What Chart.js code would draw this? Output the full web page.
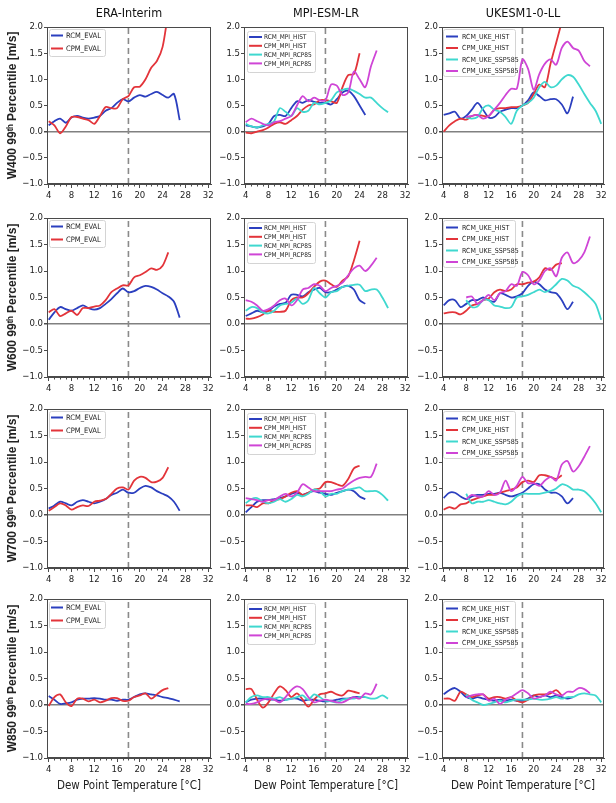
<!DOCTYPE html>
<html><head><meta charset="utf-8">
<script src="https://cdn.jsdelivr.net/npm/chart.js@4.4.1/dist/chart.umd.min.js"></script>
<style>
html,body{margin:0;padding:0;background:#fff;}
body{width:616px;height:803px;position:relative;overflow:hidden;}
canvas{position:absolute;}
</style></head>
<body>
<script>
// ---------------- DATA ----------------
const dewPoint = [4,5,6,7,8,9,10,11,12,13,14,15,16,17,18,19,20,21,22,23,24,25,26,27,28,29,30,31,32];
const xTickValues = [4,8,12,16,20,24,28,32];
const yTickValues = [-1.0,-0.5,0.0,0.5,1.0,1.5,2.0];
const thresholdTemp = 18;
const columnTitles = ['ERA-Interim','MPI-ESM-LR','UKESM1-0-LL'];
const levelNames = ['W400','W600','W700','W850'];
const eraLabels = ['RCM_EVAL','CPM_EVAL'];
const mpiLabels = ['RCM_MPI_HIST','CPM_MPI_HIST','RCM_MPI_RCP85','CPM_MPI_RCP85'];
const ukeLabels = ['RCM_UKE_HIST','CPM_UKE_HIST','RCM_UKE_SSP585','CPM_UKE_SSP585'];
const n = null;

// W400
const w400_era_rcm = [0.12,0.2,0.25,0.17,0.27,0.3,0.27,0.25,0.27,0.3,0.4,0.45,0.55,0.62,0.58,0.65,0.7,0.67,0.72,0.76,0.7,0.65,0.72,0.22];
const w400_era_cpm = [0.2,0.12,-0.03,0.1,0.28,0.28,0.25,0.22,0.15,0.3,0.47,0.45,0.45,0.62,0.68,0.85,0.86,1.0,1.22,1.35,1.62,2.3];
const w400_mpi_rcm_hist = [0.12,0.1,0.08,0.1,0.15,0.3,0.32,0.3,0.45,0.58,0.55,0.6,0.57,0.55,0.55,0.52,0.62,0.75,0.78,0.68,0.5,0.32];
const w400_mpi_cpm_hist = [-0.02,-0.03,0.0,0.03,0.08,0.15,0.18,0.15,0.22,0.3,0.42,0.5,0.52,0.6,0.6,0.58,0.55,0.85,1.08,1.1,1.5];
const w400_mpi_rcm_rcp85 = [0.15,0.1,0.08,0.12,0.15,0.2,0.45,0.38,0.3,0.45,0.38,0.4,0.55,0.52,0.55,0.6,0.75,0.8,0.82,0.78,0.72,0.65,0.65,0.55,0.45,0.37];
const w400_mpi_cpm_rcp85 = [0.18,0.25,0.2,0.15,0.12,0.18,0.2,0.25,0.3,0.5,0.68,0.58,0.65,0.6,0.6,0.9,0.88,0.7,0.75,1.15,1.0,0.85,1.25,1.55];
const w400_uke_rcm_hist = [0.32,0.35,0.38,0.25,0.3,0.42,0.55,0.42,0.27,0.28,0.38,0.42,0.45,0.45,0.5,0.6,0.75,0.68,0.6,0.62,0.62,0.52,0.35,0.67];
const w400_uke_cpm_hist = [0.0,0.12,0.2,0.25,0.23,0.3,0.32,0.3,0.3,0.42,0.45,0.45,0.47,0.47,0.5,0.55,0.72,0.9,0.85,1.3,1.7,2.1];
const w400_uke_rcm_ssp585 = [n,n,n,n,0.27,0.25,0.28,0.45,0.5,0.42,0.38,0.28,0.15,0.4,0.5,0.55,0.65,0.85,0.95,0.85,0.88,1.0,1.08,1.05,0.9,0.72,0.55,0.4,0.15];
const w400_uke_cpm_ssp585 = [n,n,n,n,0.28,0.3,0.32,0.25,0.3,0.42,0.55,0.7,0.82,0.82,1.38,1.2,0.8,1.1,1.3,1.38,1.28,1.6,1.72,1.6,1.55,1.35,1.25];
// W600
const w600_era_rcm = [0.08,0.22,0.32,0.28,0.25,0.3,0.35,0.3,0.27,0.3,0.38,0.47,0.58,0.67,0.6,0.62,0.68,0.72,0.7,0.65,0.58,0.52,0.42,0.12];
const w600_era_cpm = [0.22,0.28,0.15,0.2,0.25,0.17,0.3,0.3,0.33,0.35,0.45,0.6,0.67,0.73,0.73,0.88,0.92,0.98,1.05,1.02,1.1,1.35];
const w600_mpi_rcm_hist = [0.15,0.2,0.25,0.22,0.25,0.33,0.38,0.4,0.55,0.55,0.52,0.6,0.65,0.68,0.6,0.6,0.65,0.7,0.72,0.65,0.45,0.38];
const w600_mpi_cpm_hist = [0.1,0.1,0.13,0.18,0.25,0.23,0.23,0.25,0.45,0.5,0.5,0.58,0.7,0.8,0.82,0.75,0.7,0.82,0.9,1.2,1.57];
const w600_mpi_rcm_rcp85 = [0.25,0.32,0.3,0.22,0.2,0.25,0.35,0.38,0.4,0.48,0.38,0.45,0.68,0.58,0.5,0.6,0.62,0.7,0.72,0.74,0.74,0.62,0.65,0.65,0.5,0.3];
const w600_mpi_cpm_rcp85 = [0.45,0.42,0.35,0.25,0.28,0.35,0.45,0.48,0.35,0.45,0.65,0.68,0.75,0.72,0.62,0.68,0.72,0.78,0.92,1.05,1.1,1.0,1.1,1.25];
const w600_uke_rcm_hist = [0.35,0.45,0.45,0.32,0.38,0.45,0.45,0.5,0.45,0.42,0.58,0.55,0.5,0.52,0.58,0.72,0.8,0.75,0.65,0.6,0.58,0.45,0.28,0.42];
const w600_uke_cpm_hist = [0.2,0.22,0.22,0.18,0.25,0.35,0.38,0.45,0.48,0.6,0.65,0.62,0.65,0.75,0.75,0.78,0.8,0.88,1.05,1.02,1.12,1.15];
const w600_uke_rcm_ssp585 = [n,n,n,n,0.45,0.32,0.33,0.45,0.45,0.35,0.33,0.3,0.32,0.5,0.52,0.55,0.6,0.65,0.6,0.65,0.75,0.85,0.82,0.72,0.68,0.6,0.5,0.38,0.08];
const w600_uke_cpm_ssp585 = [n,n,n,n,0.5,0.52,0.38,0.45,0.55,0.45,0.58,0.62,0.75,0.72,0.98,0.92,0.75,0.82,1.0,1.05,0.9,1.25,1.35,1.15,1.2,1.35,1.65];
// W700
const w700_era_rcm = [0.12,0.18,0.25,0.22,0.18,0.25,0.28,0.25,0.22,0.25,0.3,0.38,0.42,0.48,0.42,0.42,0.5,0.55,0.52,0.45,0.4,0.35,0.25,0.08];
const w700_era_cpm = [0.08,0.15,0.22,0.18,0.1,0.15,0.18,0.17,0.25,0.27,0.3,0.4,0.5,0.52,0.48,0.65,0.72,0.7,0.62,0.63,0.7,0.9];
const w700_mpi_rcm_hist = [0.05,0.15,0.25,0.28,0.28,0.3,0.32,0.35,0.4,0.42,0.38,0.42,0.45,0.42,0.4,0.38,0.42,0.45,0.48,0.45,0.35,0.3];
const w700_mpi_cpm_hist = [0.18,0.18,0.15,0.22,0.22,0.28,0.3,0.35,0.42,0.45,0.38,0.42,0.48,0.5,0.62,0.62,0.58,0.55,0.68,0.88,0.93];
const w700_mpi_rcm_rcp85 = [0.22,0.3,0.32,0.25,0.22,0.25,0.3,0.25,0.3,0.38,0.35,0.4,0.48,0.45,0.35,0.4,0.4,0.45,0.48,0.5,0.52,0.45,0.45,0.45,0.38,0.27];
const w700_mpi_cpm_rcp85 = [0.32,0.3,0.28,0.25,0.28,0.28,0.35,0.4,0.35,0.42,0.58,0.52,0.45,0.45,0.45,0.45,0.48,0.5,0.58,0.65,0.7,0.72,0.72,0.97];
const w700_uke_rcm_hist = [0.32,0.42,0.42,0.35,0.3,0.35,0.38,0.38,0.4,0.4,0.42,0.38,0.35,0.38,0.42,0.5,0.58,0.58,0.48,0.42,0.42,0.35,0.22,0.32];
const w700_uke_cpm_hist = [0.1,0.15,0.12,0.2,0.22,0.28,0.32,0.35,0.38,0.38,0.42,0.45,0.48,0.52,0.62,0.65,0.62,0.75,0.75,0.72,0.68,0.75];
const w700_uke_rcm_ssp585 = [n,n,n,n,0.4,0.22,0.25,0.25,0.28,0.25,0.22,0.2,0.25,0.35,0.4,0.4,0.4,0.4,0.42,0.45,0.5,0.58,0.55,0.48,0.48,0.45,0.35,0.22,0.05];
const w700_uke_cpm_ssp585 = [n,n,n,n,0.3,0.38,0.35,0.35,0.45,0.38,0.42,0.65,0.45,0.55,0.72,0.6,0.6,0.55,0.65,0.72,0.65,0.95,1.02,0.82,0.92,1.1,1.3];
// W850
const w850_era_rcm = [0.17,0.1,0.02,0.03,0.05,0.1,0.12,0.12,0.13,0.12,0.1,0.1,0.08,0.1,0.1,0.15,0.2,0.22,0.2,0.18,0.15,0.13,0.1,0.07];
const w850_era_cpm = [-0.02,0.15,0.2,0.05,-0.02,0.12,0.12,0.07,0.1,0.05,0.08,0.13,0.13,0.08,0.08,0.15,0.18,0.22,0.12,0.2,0.28,0.32];
const w850_mpi_rcm_hist = [0.05,0.1,0.12,0.12,0.1,0.1,0.08,0.1,0.12,0.12,0.08,0.1,0.1,0.08,0.07,0.08,0.1,0.12,0.12,0.15,0.15,0.15];
const w850_mpi_cpm_hist = [0.3,0.3,0.1,-0.05,0.05,0.22,0.35,0.28,0.15,0.22,0.1,-0.03,0.1,0.2,0.22,0.25,0.2,0.18,0.27,0.25,0.22];
const w850_mpi_rcm_rcp85 = [0.05,0.15,0.18,0.15,0.15,0.12,0.15,0.1,0.12,0.15,0.18,0.1,0.2,0.15,0.08,0.07,0.05,0.1,0.12,0.12,0.15,0.15,0.12,0.13,0.18,0.12];
const w850_mpi_cpm_rcp85 = [0.02,0.02,0.05,0.1,0.12,0.1,0.05,0.15,0.28,0.35,0.3,0.15,0.05,0.08,0.1,0.08,0.05,0.05,0.1,0.15,0.12,0.22,0.2,0.4];
const w850_uke_rcm_hist = [0.2,0.28,0.32,0.25,0.15,0.12,0.15,0.12,0.1,0.08,0.1,0.08,0.1,0.08,0.08,0.12,0.18,0.15,0.18,0.15,0.18,0.15,0.12,0.15];
const w850_uke_cpm_hist = [0.12,0.12,0.08,0.25,0.2,0.15,0.18,0.2,0.12,0.15,0.15,0.12,0.15,0.08,0.05,0.1,0.18,0.2,0.2,0.22,0.28,0.18];
const w850_uke_rcm_ssp585 = [n,n,n,n,0.2,0.1,0.05,0.0,0.02,0.05,0.08,0.05,0.08,0.1,0.1,0.1,0.12,0.1,0.1,0.12,0.15,0.12,0.15,0.15,0.2,0.22,0.2,0.18,0.05];
const w850_uke_cpm_ssp585 = [n,n,n,n,0.15,0.18,0.2,0.2,0.08,0.12,0.02,0.1,0.15,0.22,0.28,0.22,0.12,0.15,0.18,0.25,0.2,0.18,0.25,0.25,0.32,0.3,0.22];

// ---------------- STYLE / LAYOUT ----------------
const seriesColors = ['#2b3fbf','#e3343a','#3fd8cf','#cf45d6'];
const FONT_NARROW = "'Liberation Sans Narrow','DejaVu Sans Condensed','Arial Narrow','Liberation Sans',sans-serif";
const FONT_BOLD = "'Liberation Sans','DejaVu Sans',sans-serif";
const AXIS_COLOR = '#4a4a4a';
const LEFT = [47,244,442], RIGHT = [211,408,604];
const TOP = [27,218,409,599], BOTTOM = [184,377,568,758];
const legendGeom = [
  {dx:2, dy:2, w:56, h:27, l0:4, l1:16, tx:19, y0:8.5, step:13, font:7.5},
  {dx:3, dy:4, w:68, h:41, l0:5, l1:18, tx:20, y0:10, step:8.8, font:6.5},
  {dx:1, dy:2, w:72, h:47, l0:4, l1:16, tx:20, y0:9.5, step:11.5, font:7}
];

const panelSeries = [
  [[w400_era_rcm,w400_era_cpm],[w400_mpi_rcm_hist,w400_mpi_cpm_hist,w400_mpi_rcm_rcp85,w400_mpi_cpm_rcp85],[w400_uke_rcm_hist,w400_uke_cpm_hist,w400_uke_rcm_ssp585,w400_uke_cpm_ssp585]],
  [[w600_era_rcm,w600_era_cpm],[w600_mpi_rcm_hist,w600_mpi_cpm_hist,w600_mpi_rcm_rcp85,w600_mpi_cpm_rcp85],[w600_uke_rcm_hist,w600_uke_cpm_hist,w600_uke_rcm_ssp585,w600_uke_cpm_ssp585]],
  [[w700_era_rcm,w700_era_cpm],[w700_mpi_rcm_hist,w700_mpi_cpm_hist,w700_mpi_rcm_rcp85,w700_mpi_cpm_rcp85],[w700_uke_rcm_hist,w700_uke_cpm_hist,w700_uke_rcm_ssp585,w700_uke_cpm_ssp585]],
  [[w850_era_rcm,w850_era_cpm],[w850_mpi_rcm_hist,w850_mpi_cpm_hist,w850_mpi_rcm_rcp85,w850_mpi_cpm_rcp85],[w850_uke_rcm_hist,w850_uke_cpm_hist,w850_uke_rcm_ssp585,w850_uke_cpm_ssp585]]
];
const panelLabels = [eraLabels, mpiLabels, ukeLabels];

function toPoints(arr){
  const pts = [];
  dewPoint.forEach((x,i)=>{ const v = arr[i]; if (v !== null && v !== undefined) pts.push({x, y:v}); });
  return pts;
}

const framePlugin = {
  id: 'frameAndLegend',
  afterDraw(chart, args, opts){
    const {ctx, chartArea:a, scales:{x}} = chart;
    ctx.save();
    // minor x ticks
    ctx.strokeStyle = AXIS_COLOR; ctx.lineWidth = 1;
    dewPoint.forEach(v=>{
      if (xTickValues.includes(v)) return;
      const px = Math.round(x.getPixelForValue(v)) + 0.5;
      ctx.beginPath(); ctx.moveTo(px, a.bottom); ctx.lineTo(px, a.bottom + 2.5); ctx.stroke();
    });
    // full frame
    ctx.strokeRect(Math.round(a.left)+0.5, Math.round(a.top)+0.5, Math.round(a.right-a.left)-1, Math.round(a.bottom-a.top)-1);
    // legend
    const g = opts.geom;
    const lx = a.left + g.dx, ly = a.top + g.dy;
    ctx.fillStyle = 'rgba(255,255,255,0.85)';
    ctx.strokeStyle = '#d4d4d4';
    ctx.lineWidth = 1;
    ctx.beginPath();
    ctx.roundRect(lx+0.5, ly+0.5, g.w, g.h, 2);
    ctx.fill(); ctx.stroke();
    ctx.font = g.font + 'px ' + FONT_NARROW;
    ctx.textBaseline = 'middle';
    ctx.textAlign = 'left';
    chart.data.datasets.forEach((ds, i)=>{
      if (!ds.legend) return;
      const yy = a.top + g.y0 + ds.legendIndex * g.step;
      ctx.strokeStyle = ds.borderColor; ctx.lineWidth = 2;
      ctx.beginPath(); ctx.moveTo(a.left + g.l0, yy); ctx.lineTo(a.left + g.l1, yy); ctx.stroke();
      ctx.fillStyle = '#222';
      ctx.fillText(ds.label, a.left + g.tx, yy + 0.5);
    });
    ctx.restore();
  }
};

function makePanel(r, c){
  const yw = c === 0 ? 47 : 30;
  const padR = 8;
  const xh = r === 3 ? 44 : 20;
  const left = LEFT[c] - yw;
  const top = r === 0 ? 0 : TOP[r] - 10;
  const w = RIGHT[c] + padR - left;
  const h = BOTTOM[r] + xh - top;
  const cv = document.createElement('canvas');
  cv.width = w; cv.height = h;
  cv.style.left = left + 'px'; cv.style.top = top + 'px';
  cv.style.width = w + 'px'; cv.style.height = h + 'px';
  document.body.appendChild(cv);

  const labels = panelLabels[c];
  const arrs = panelSeries[r][c];
  const datasets = arrs.map((arr, i)=>({
    label: labels[i],
    data: toPoints(arr),
    borderColor: seriesColors[i],
    backgroundColor: seriesColors[i],
    borderWidth: 1.8,
    pointRadius: 0,
    tension: 0.3,
    fill: false,
    order: 10 - i,
    legend: true,
    legendIndex: i
  }));
  datasets.push({
    label: 'threshold',
    data: [{x: thresholdTemp, y: yTickValues[0]}, {x: thresholdTemp, y: yTickValues[yTickValues.length-1]}],
    borderColor: '#8a8a8a',
    borderWidth: 1.6,
    borderDash: [6,4],
    pointRadius: 0,
    order: 20,
    legend: false
  });

  new Chart(cv.getContext('2d'), {
    type: 'line',
    data: {datasets},
    plugins: [framePlugin],
    options: {
      responsive: false,
      animation: false,
      devicePixelRatio: 1,
      layout: {padding: {top: r === 0 ? 0 : 10, right: padR, left: 0, bottom: 0}},
      plugins: {
        legend: {display: false},
        tooltip: {enabled: false},
        title: {
          display: r === 0,
          text: columnTitles[c],
          fullSize: false,
          color: '#111',
          font: {family: FONT_NARROW, size: 12.5, weight: 'normal', lineHeight: 1.2},
          padding: {top: 6, bottom: 6}
        },
        frameAndLegend: {geom: legendGeom[c]}
      },
      scales: {
        x: {
          type: 'linear',
          min: 3.7, max: 32.5,
          afterBuildTicks: s => { s.ticks = xTickValues.map(v => ({value: v})); },
          afterFit: s => { s.height = xh; },
          ticks: {color: '#222', font: {family: FONT_NARROW, size: 9.5}, padding: 2, maxRotation: 0, autoSkip: false,
                  callback: v => String(v)},
          grid: {drawOnChartArea: false, color: 'transparent', tickColor: AXIS_COLOR, tickLength: 4},
          border: {display: true, color: AXIS_COLOR, width: 1},
          title: {
            display: r === 3,
            text: 'Dew Point Temperature [°C]',
            color: '#222',
            font: {family: FONT_NARROW, size: 11.5, lineHeight: 1.2},
            padding: {top: 0, bottom: 9}
          }
        },
        y: {
          type: 'linear',
          min: yTickValues[0], max: yTickValues[yTickValues.length-1],
          afterBuildTicks: s => { s.ticks = yTickValues.map(v => ({value: v})); },
          afterFit: s => { s.width = yw; },
          ticks: {color: '#222', font: {family: FONT_NARROW, size: 9.5}, padding: 1,
                  callback: v => (v < 0 ? '\u2212' : '') + Math.abs(v).toFixed(1)},
          grid: {
            drawOnChartArea: true,
            color: ctx => (ctx.tick && ctx.tick.value === 0) ? '#808080' : 'transparent',
            lineWidth: ctx => (ctx.tick && ctx.tick.value === 0) ? 1.5 : 1,
            tickColor: AXIS_COLOR, tickLength: 3
          },
          border: {display: true, color: AXIS_COLOR, width: 1},
          title: {
            display: c === 0,
            text: levelNames[r] + ' 99\u1D57\u02B0 Percentile [m/s]',
            color: '#222',
            font: {family: FONT_BOLD, size: 12, weight: 'bold', lineHeight: 1.2},
            padding: {top: 5, bottom: 0}
          }
        }
      }
    }
  });
}

for (let r = 0; r < 4; r++) for (let c = 0; c < 3; c++) makePanel(r, c);
</script>
</body></html>
